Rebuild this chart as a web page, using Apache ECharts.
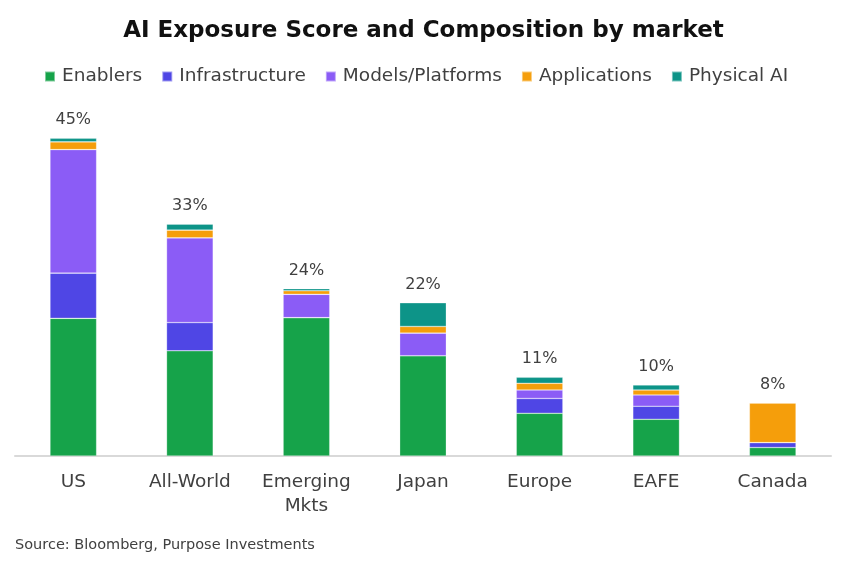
<!DOCTYPE html>
<html>
<head>
<meta charset="utf-8">
<title>AI Exposure Score and Composition by market</title>
<script src="https://cdn.jsdelivr.net/npm/echarts@6/dist/echarts.min.js"></script>
<style>
  html, body { margin: 0; padding: 0; background: #fff; }
  #chart { width: 847px; height: 563px; }
</style>
</head>
<body>
<div id="chart"></div>
<script>
var markets = ['US', 'All-World', 'Emerging\nMkts', 'Japan', 'Europe', 'EAFE', 'Canada'];

// composition of the score, in % points
var enablers       = [19.5, 14.9, 19.6, 14.2, 6.05, 5.2, 1.2];
var infrastructure = [6.4, 4.0, 0, 0, 2.1, 1.85, 0.7];
var models         = [17.5, 12.0, 3.3, 3.2, 1.2, 1.6, 0];
var applications   = [1.1, 1.1, 0.5, 0.95, 0.95, 0.7, 5.6];
var physicalAI     = [0.5, 0.85, 0.3, 3.35, 0.85, 0.7, 0];

// score labels shown above each bar
var totalLabels = ['45%', '33%', '24%', '22%', '11%', '10%', '8%'];

var seriesNames = ['Enablers', 'Infrastructure', 'Models/Platforms', 'Applications', 'Physical AI'];
var seriesColors = ['#16a34a', '#4f46e5', '#8b5cf6', '#f59e0b', '#0d9488'];
var seriesData = [enablers, infrastructure, models, applications, physicalAI];

var font = 'DejaVu Sans';

var chart = echarts.init(document.getElementById('chart'));

var series = seriesData.map(function (d, i) {
    var s = {
        name: seriesNames[i],
        type: 'bar',
        stack: 'score',
        barWidth: '40%',
        data: d,
        itemStyle: {
            color: seriesColors[i],
            borderColor: 'rgba(255,255,255,0.45)',
            borderWidth: 0.6
        },
        emphasis: { disabled: true }
    };
    if (i === seriesData.length - 1) {
        s.label = {
            show: true,
            position: 'top',
            distance: 10,
            fontFamily: font,
            fontSize: 16,
            color: '#404040',
            formatter: function (p) { return totalLabels[p.dataIndex]; }
        };
    }
    return s;
});

var option = {
    animation: false,
    textStyle: { fontFamily: font },
    title: {
        text: 'AI Exposure Score and Composition by market',
        left: 'center',
        top: 15,
        textStyle: { fontFamily: font, fontSize: 23, fontWeight: 'bold', color: '#111' }
    },
    legend: {
        data: seriesNames,
        top: 62,
        left: 39,
        icon: 'rect',
        itemWidth: 10,
        itemHeight: 10,
        itemGap: 19,
        textStyle: { fontFamily: font, fontSize: 18.5, color: '#404040', padding: [0, 0, 0, 2] }
    },
    graphic: [{
        type: 'text',
        left: 15,
        top: 538,
        style: {
            text: 'Source: Bloomberg, Purpose Investments',
            fontFamily: font,
            fontSize: 14.5,
            fill: '#404040'
        }
    }],
    grid: { left: 15, right: 16, top: 103, bottom: 107 },
    xAxis: {
        type: 'category',
        data: markets,
        axisLine: { lineStyle: { color: '#d9d9d9', width: 2 } },
        axisTick: { show: false },
        axisLabel: {
            fontFamily: font,
            fontSize: 18.5,
            color: '#404040',
            margin: 14,
            lineHeight: 24,
            interval: 0
        }
    },
    yAxis: {
        type: 'value',
        min: 0,
        max: 50,
        show: false,
        splitLine: { show: false }
    },
    series: series
};

chart.setOption(option);
window.addEventListener('resize', chart.resize);
</script>
</body>
</html>
